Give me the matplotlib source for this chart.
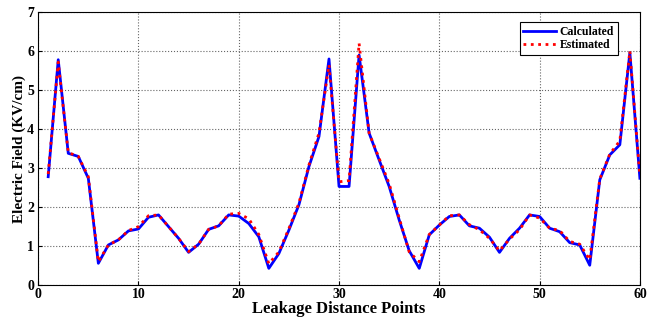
import numpy as np
import matplotlib.pyplot as plt

points = np.arange(1, 61)
calculated = [2.78, 5.78, 3.38, 3.30, 2.74, 0.56, 1.03, 1.16, 1.39, 1.44,
              1.74, 1.80, 1.50, 1.20, 0.84, 1.05, 1.43, 1.52, 1.80, 1.77,
              1.58, 1.24, 0.43, 0.81, 1.41, 2.06, 3.04, 3.81, 5.80, 2.53,
              2.53, 5.90, 3.90, 3.21, 2.53, 1.67, 0.88, 0.43, 1.29, 1.54,
              1.76, 1.80, 1.52, 1.46, 1.23, 0.84, 1.20, 1.46, 1.80, 1.76,
              1.46, 1.37, 1.09, 1.03, 0.51, 2.70, 3.34, 3.60, 5.96, 2.74]
estimated = [2.85, 5.72, 3.40, 3.30, 2.78, 0.60, 1.03, 1.16, 1.40, 1.50,
             1.78, 1.80, 1.50, 1.20, 0.86, 1.05, 1.43, 1.52, 1.82, 1.84,
             1.70, 1.30, 0.55, 0.85, 1.45, 2.10, 3.08, 3.90, 5.65, 2.65,
             2.68, 6.20, 3.90, 3.25, 2.60, 1.72, 0.85, 0.60, 1.30, 1.54,
             1.78, 1.80, 1.55, 1.42, 1.20, 0.88, 1.18, 1.42, 1.80, 1.72,
             1.46, 1.40, 1.12, 1.05, 0.65, 2.72, 3.36, 3.70, 6.00, 2.80]

plt.rcParams['font.family'] = ['Liberation Serif', 'DejaVu Serif']
plt.rcParams['font.weight'] = 'bold'

fig = plt.figure(figsize=(6.47, 3.2), dpi=100)
ax = fig.add_axes([0.059, 0.109, 0.930, 0.853])

ax.plot(points, calculated, '-', color='blue', lw=2, label='Calculated')
ax.plot(points, estimated, ':', color='red', lw=2, label='Estimated')

ax.set_xlim(0, 60)
ax.set_ylim(0, 7)
ax.set_xticks(range(0, 61, 10))
ax.set_yticks(range(0, 8))
ax.grid(True, linestyle=':', color='#666666', lw=0.8)
ax.tick_params(direction='in', length=3, labelsize=10)
ax.tick_params(axis='x', pad=2)
ax.tick_params(axis='y', pad=3)
for lab in ax.get_xticklabels() + ax.get_yticklabels():
    lab.set_fontweight('bold')

ax.set_xlabel('Leakage Distance Points', fontsize=12, fontweight='bold', labelpad=0)
ax.set_ylabel('Electric Field (KV/cm)', fontsize=11, fontweight='bold', labelpad=1)

leg = ax.legend(loc='upper right', bbox_to_anchor=(0.973, 0.985), fontsize=8.5,
                fancybox=False, edgecolor='black', framealpha=1,
                handlelength=2.8, borderpad=0.3, labelspacing=0.15, handletextpad=0.3)
leg.get_frame().set_linewidth(0.8)

fig.savefig('out.png', dpi=100)
